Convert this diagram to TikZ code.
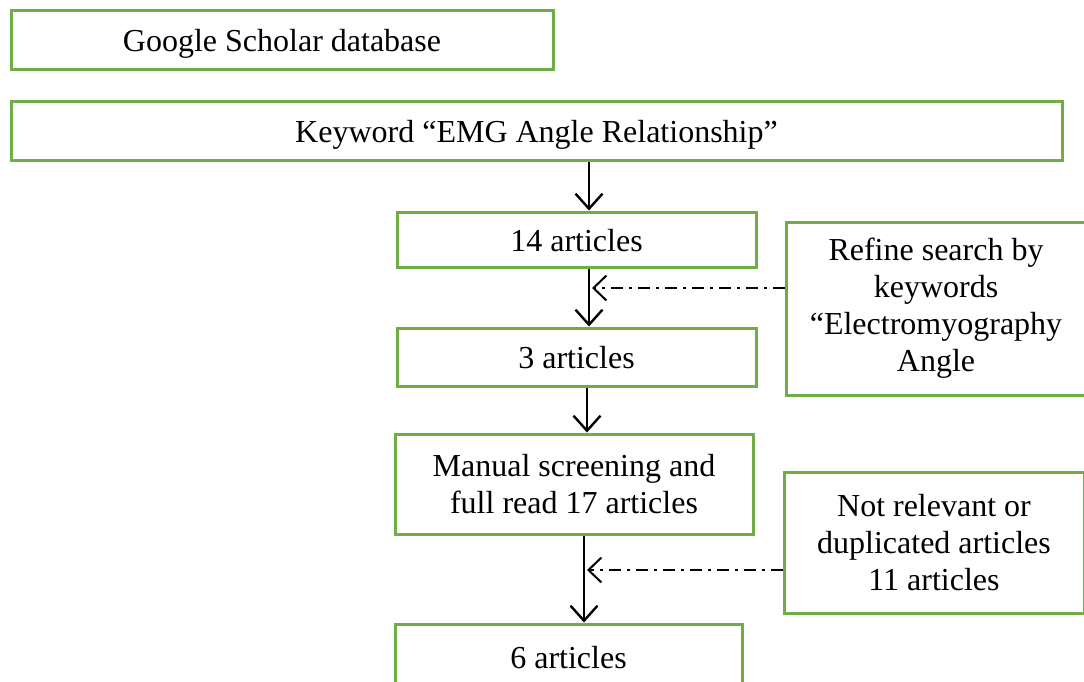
\documentclass[tikz,border=0pt]{standalone}
\usepackage{fontspec}
\setmainfont{Liberation Serif}
\usetikzlibrary{arrows.meta}
\definecolor{boxgreen}{RGB}{112,173,71}
\tikzset{
  box/.style={draw=boxgreen, line width=3pt, fill=white, inner sep=0pt, align=center,
              font=\fontsize{32}{37}\selectfont},
  oneline/.style={text height=30pt, text depth=7pt},
  flow/.style={line width=2.4pt, -{Straight Barb[length=15pt, width=27pt, line width=2.4pt]}},
  side/.style={line width=1.8pt, dash pattern=on 12pt off 6pt on 3pt off 6pt,
               -{Straight Barb[length=13pt, width=25pt, line width=2pt]}}
}
\begin{document}
\begin{tikzpicture}[x=1pt, y=-1pt]
  \useasboundingbox (0,0) rectangle (1084,681);
  \begin{scope}
  \clip (0,0) rectangle (1084,681);

  % main column of boxes
  \node[box, oneline, minimum width=542pt, minimum height=59pt] (db) at (282,39.5) {Google Scholar database};
  \node[box, oneline, minimum width=1051pt, minimum height=59pt] (kw) at (536.5,130.5) {Keyword “EMG Angle Relationship”};
  \node[box, oneline, minimum width=359pt, minimum height=55pt] (a14) at (576.5,239.5) {14 articles};
  \node[box, oneline, minimum width=359pt, minimum height=58pt] (a3) at (576.5,357) {3 articles};
  \node[box, minimum width=358pt, minimum height=100pt] (scr) at (574,484) {Manual screening and\\full read 17 articles};
  \node[box, oneline, minimum width=347pt, minimum height=66pt] (a6) at (568.5,657) {6 articles};

  % side boxes
  \node[box, minimum width=300pt, minimum height=173pt] (ref) at (936,308.5)
    {Refine search by\\keywords\\“Electromyography\\Angle};
  \node[box, minimum width=300pt, minimum height=141pt] (rel) at (934,542.5)
    {Not relevant or\\duplicated articles\\11 articles};

  % x positions of the vertical arrows
  \coordinate (c1) at (589,0);
  \coordinate (c2) at (589,0);
  \coordinate (c3) at (587,0);
  \coordinate (c4) at (584,0);
  % points where the side arrows meet the flow line
  \coordinate (m1) at (592,288);
  \coordinate (m2) at (587,570);

  \draw[flow] (kw.south -| c1) -- (a14.north -| c1);
  \draw[flow] (a14.south -| c2) -- (a3.north -| c2);
  \draw[flow] (a3.south -| c3) -- (scr.north -| c3);
  \draw[flow] (scr.south -| c4) -- (a6.north -| c4);

  \draw[side] (ref.west |- m1) -- (m1);
  \draw[side] (rel.west |- m2) -- (m2);
  \end{scope}
\end{tikzpicture}
\end{document}
